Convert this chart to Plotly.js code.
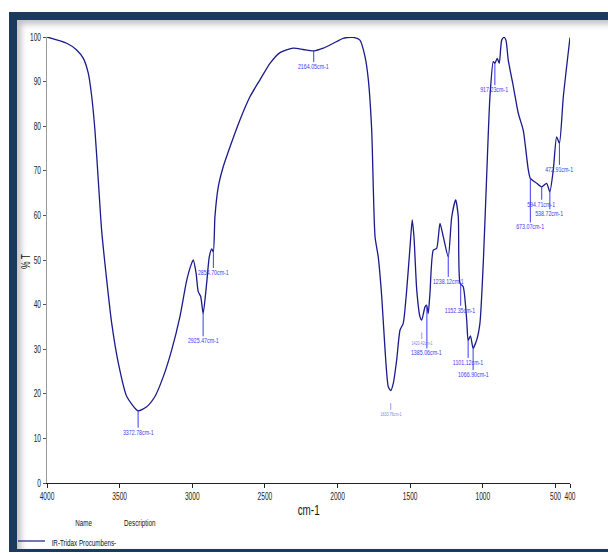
<!DOCTYPE html>
<html>
<head>
<meta charset="utf-8">
<script src="https://cdn.plot.ly/plotly-3.0.1.min.js"></script>
<style>
  html, body { margin:0; padding:0; width:608px; height:553px; overflow:hidden; background:#fff; }
  #frame { position:absolute; left:9px; top:12px; width:620px; height:529px;
           border-left:8px solid #1b3a5e; border-top:8px solid #1b3a5e; border-bottom:3px solid #1b3a5e;
           box-shadow: inset 4px 4px 6px rgba(0,0,0,0.25); }
  #chart { position:absolute; left:0; top:0; width:608px; height:553px; }
</style>
</head>
<body>
<div id="frame"></div>
<div id="chart"></div>
<script>
// Spectrum (wavenumber cm-1, %T)
const wavenumber = [4000,3864,3796,3750,3716,3692,3670,3647,3624,3589,3555,3509,3451,3373,3314,3257,3200,3142,3085,3038,3004,2993,2974,2959,2942,2925,2901,2883,2866,2855,2844,2821,2787,2740,2672,2603,2534,2465,2396,2305,2236,2164,2098,2029,1961,1892,1846,1811,1788,1765,1742,1720,1696,1673,1651,1634,1616,1593,1570,1548,1524,1501,1486,1474,1455,1433,1421,1398,1387,1376,1364,1341,1318,1295,1272,1238,1214,1187,1169,1157,1135,1111,1101,1085,1067,1042,1020,997,973,951,928,917,901,887,870,854,841,825,790,756,722,687,673,629,595,561,539,515,492,473,446,400];
const transmittance = [100,98.6,97.1,95.2,91.9,86.6,79.1,67.9,56.7,45.5,35.9,26.9,19.4,16.2,17.1,19.4,23.8,29.8,37.3,45.5,49.3,50.0,47.1,42.9,41.8,38.0,44.8,50.7,52.5,51.8,59.7,66.4,70.9,75.4,81.4,86.6,90.4,94.1,96.5,97.5,97.2,96.9,97.5,98.6,99.7,99.9,99.3,95.6,90.4,79.1,55.2,50.7,41.8,29.8,21.6,20.7,22.4,27.6,34.3,35.8,43.3,53.0,59.0,55.2,43.3,37.3,36.5,39.5,39.9,38.0,42.5,52.2,52.6,58.2,55.2,50.7,59.7,63.5,59.7,44.8,44.0,36.5,32.0,33.0,30.2,32.1,35.8,49.3,69.4,86.6,94.5,94.1,95.2,94.1,99.3,99.9,99.3,94.8,88.9,82.9,79.1,70.2,68.3,67.2,66.4,67.2,65.3,70.2,77.6,76.2,86.6,99.9];

// Peak labels
const peakPositions = [3372.78,2925.47,2854.70,2164.05,1385.06,1238.12,1152.35,1101.12,1066.90,917.23,673.07,594.71,538.72,472.91];
const peakLabels = ["3372.78cm-1","2925.47cm-1","2854.70cm-1","2164.05cm-1","1385.06cm-1","1238.12cm-1","1152.35cm-1","1101.12cm-1","1066.90cm-1","917.23cm-1","673.07cm-1","594.71cm-1","538.72cm-1","472.91cm-1"];
// faint, barely legible labels
const faintPositions = [1633.76,1420.42];
const faintLabels = ["1633.76cm-1","1420.42cm-1"];

const xTickVals = [4000,3500,3000,2500,2000,1500,1000,500,400];
const xTickText = ["4000","3500","3000","2500","2000","1500","1000","500","400"];
const yTickVals = [0,10,20,30,40,50,60,70,80,90,100];

const seriesName = "IR-Tridax Procumbens-";
const xTitle = "cm-1";
const yTitle = "% T";

function interp(x){
  for (let i=0;i<wavenumber.length-1;i++){
    const a=wavenumber[i], b=wavenumber[i+1];
    if ((x<=a && x>=b)){
      const t=(x-a)/(b-a);
      return transmittance[i]+t*(transmittance[i+1]-transmittance[i]);
    }
  }
  return transmittance[transmittance.length-1];
}

const font = "Liberation Sans, Arial, sans-serif";
const lineLen = [3.8,5.2,3.8,2.5,9.4,4.5,4.9,4.0,4.9,4.9,9.9,2.9,4.0,4.9];
const shapes = [];
const annotations = [];
const peakColor = "#3c3cf0";

peakPositions.forEach((p,i)=>{
  const top = interp(p);
  const bot = top - lineLen[i];
  shapes.push({type:'line', xref:'x', yref:'y', x0:p, x1:p, y0:top, y1:bot, line:{color:peakColor, width:1}});
  annotations.push({x:p, y:bot, xref:'x', yref:'y', text:peakLabels[i], showarrow:false,
    xanchor:'center', yanchor:'top', yshift:2, font:{family:font, size:8, color:peakColor}});
});
faintPositions.forEach((p,i)=>{
  const top = interp(p) - 2.8;
  const bot = top - 1.5;
  shapes.push({type:'line', xref:'x', yref:'y', x0:p, x1:p, y0:top, y1:bot, line:{color:'#8080f0', width:0.8}});
  annotations.push({x:p, y:bot, xref:'x', yref:'y', text:faintLabels[i], showarrow:false,
    xanchor:'center', yanchor:'top', yshift:1, font:{family:font, size:5.5, color:'#8080f0'}});
});

const px = x => (x-47)/523;
const py = y => (483-y)/446;
// axis titles
annotations.push({xref:'paper', yref:'paper', x:px(308), y:py(509), text:xTitle, showarrow:false, xanchor:'center', yanchor:'middle', font:{family:font, size:15, color:'#111'}});
annotations.push({xref:'paper', yref:'paper', x:px(25), y:py(262), text:yTitle, textangle:-90, showarrow:false, xanchor:'center', yanchor:'middle', font:{family:font, size:13, color:'#111'}});
// Legend header and entry (below the plot)
annotations.push({xref:'paper', yref:'paper', x:px(83), y:py(522), text:'Name', showarrow:false, xanchor:'center', yanchor:'middle', font:{family:font, size:9.5, color:'#111'}});
annotations.push({xref:'paper', yref:'paper', x:px(140), y:py(522), text:'Description', showarrow:false, xanchor:'center', yanchor:'middle', font:{family:font, size:9.5, color:'#111'}});
annotations.push({xref:'paper', yref:'paper', x:px(84), y:py(542), text:seriesName, showarrow:false, xanchor:'center', yanchor:'middle', font:{family:font, size:9.5, color:'#111'}});
shapes.push({type:'line', xref:'paper', yref:'paper', x0:px(18), x1:px(45), y0:py(541), y1:py(541), line:{color:'#1a1a8c', width:1.2}});

const trace = {x:wavenumber, y:transmittance, type:'scatter', mode:'lines', name:seriesName,
  line:{color:'#1a1a8c', width:1.3, shape:'spline', smoothing:0.6}, hoverinfo:'skip'};

const layout = {
  width:608, height:553,
  margin:{l:47, r:38, t:37, b:70, pad:0},
  paper_bgcolor:'rgba(0,0,0,0)', plot_bgcolor:'rgba(0,0,0,0)',
  showlegend:false,
  xaxis:{range:[4000,400], autorange:false, tickmode:'array', tickvals:xTickVals, ticktext:xTickText,
    tickangle:0, showgrid:false, zeroline:false, showline:true, linecolor:'#222', linewidth:1,
    ticks:'outside', ticklen:4, tickcolor:'#222', tickfont:{family:font, size:10, color:'#222'}},
  yaxis:{range:[0,100], autorange:false, tickmode:'array', tickvals:yTickVals,
    showgrid:false, zeroline:false, showline:true, linecolor:'#999', linewidth:1,
    ticks:'outside', ticklen:3, tickcolor:'#555', tickfont:{family:font, size:10, color:'#222'}},
  shapes:shapes, annotations:annotations
};

Plotly.newPlot('chart', [trace], layout, {displayModeBar:false, staticPlot:true}).then(gd=>{
  // condense all text horizontally, like the narrow font of the original
  gd.querySelectorAll('text').forEach(t=>{
    const w = t.getComputedTextLength();
    if (w>0){
      t.setAttribute('textLength', (w*0.66).toFixed(2));
      t.setAttribute('lengthAdjust', 'spacingAndGlyphs');
    }
  });
});
</script>
</body>
</html>
